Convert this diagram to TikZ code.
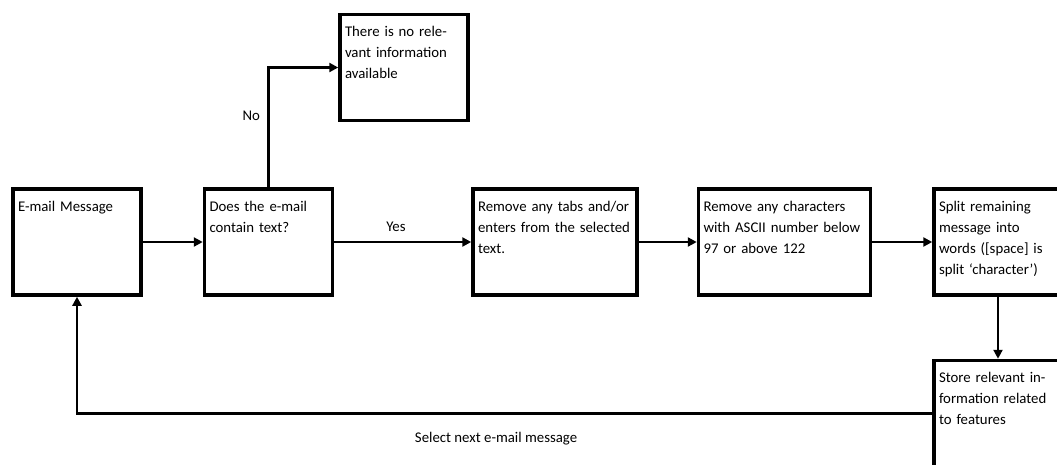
\documentclass[tikz,border=0pt]{standalone}
\usepackage{fontspec}
\setmainfont{Carlito}
\usetikzlibrary{arrows.meta,positioning}

\begin{document}
\begin{tikzpicture}[x=1pt,y=-1pt,>={Triangle[length=9pt,width=9pt]},node distance=60pt,
        font=\fontsize{14.8}{21}\selectfont,
        stepbox/.style={draw,line width=3.5pt,inner xsep=5pt,inner ysep=6pt,align=left,
                        text width=118pt,text height=16pt,text depth=78pt},
        flow/.style={line width=2.5pt}]

        \useasboundingbox (0,0) rectangle (1057,464);

        \node[stepbox] (mail) at (77,242) {E-mail Message};

        \node[stepbox] (test) [right=of mail] {Does the e-mail\\contain text?};

        \node[stepbox] (tabs) [right=137pt of test,text width=154pt] {Remove any tabs and/or\\enters from the selected\\text.};

        \node[stepbox] (ascii) [right=58pt of tabs,text width=162pt] {Remove any characters\\with ASCII number below\\97 or above 122};

        \node[stepbox] (split) [right=of ascii] {Split remaining\\message into\\words ([space] is\\split `character')};

        \node[stepbox] (store) [below=62pt of split] {Store relevant in-\\formation related\\to features};

        \node[stepbox] (noinfo) [above right=65pt and 4pt of test] {There is no rele-\\vant information\\available};

        \path[->,flow] (mail) edge (test)
                       (test) edge node[above=6pt,pos=0.45] {Yes} (tabs)
                       (tabs) edge (ascii)
                       (ascii) edge (split)
                       (split) edge (store);

        \draw[->,flow] (test.north) |- node[left=4pt,pos=0.3] {No} (noinfo.west);

        \draw[->,flow] (store.west) -| node[below=14pt,pos=0.255] {Select next e-mail message} (mail.south);

\end{tikzpicture}
\end{document}
